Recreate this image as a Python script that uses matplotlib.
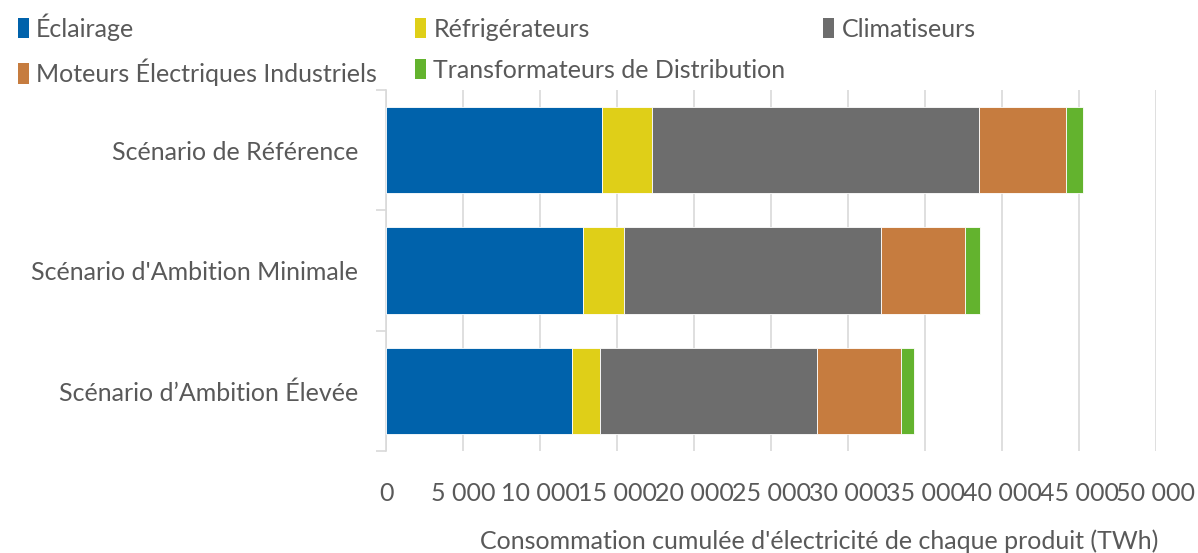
import numpy as np
import matplotlib
matplotlib.use('Agg')
import matplotlib.pyplot as plt
from matplotlib.ticker import FuncFormatter, FixedLocator
from matplotlib.patches import Patch

# Data (TWh)
scenarios = ["Scénario de Référence", "Scénario d'Ambition Minimale", "Scénario d’Ambition Élevée"]
eclairage = [14030, 12790, 12060]
refrigerateurs = [3260, 2660, 1840]
climatiseurs = [21240, 16710, 14110]
moteurs = [5650, 5460, 5450]
transformateurs = [1100, 950, 850]

series = ["Éclairage", "Réfrigérateurs", "Climatiseurs",
          "Moteurs Électriques Industriels", "Transformateurs de Distribution"]
values = [eclairage, refrigerateurs, climatiseurs, moteurs, transformateurs]
colors = ["#0062AB", "#DFCF18", "#6D6D6D", "#C67C3F", "#63B32E"]

txt = "#595959"
fs = 18
plt.rcParams['font.family'] = ['Lato', 'DejaVu Sans']

fig = plt.figure(figsize=(11.98, 5.53), dpi=100, facecolor='white')
ax = fig.add_axes([386/1198, 1-451/553, 770/1198, 361/553])

y = np.arange(len(scenarios))
left = np.zeros(len(scenarios))
for name, vals, c in zip(series, values, colors):
    ax.barh(y, vals, left=left, height=0.72, color=c, edgecolor='white',
            linewidth=0.6, zorder=3, label=name)
    left += np.array(vals)

ax.set_ylim(2.5, -0.5)
ax.set_xlim(0, 50000)
ax.set_xticks(np.arange(0, 50001, 5000))
ax.xaxis.set_major_formatter(FuncFormatter(lambda v, p: f"{int(v):,}".replace(",", " ")))
ax.grid(axis='x', color='#D9D9D9', linewidth=1.2, zorder=0)
ax.tick_params(axis='x', length=0, pad=22, labelsize=fs, labelcolor=txt)

ax.set_yticks(y)
ax.set_yticklabels(scenarios)
ax.tick_params(axis='y', which='major', length=0, pad=20, labelsize=fs, labelcolor=txt)
ax.yaxis.set_minor_locator(FixedLocator([-0.5, 0.5, 1.5, 2.5]))
ax.tick_params(axis='y', which='minor', length=7, width=1.2, color='#D9D9D9', direction='out')

for s in ['top', 'right', 'bottom']:
    ax.spines[s].set_visible(False)
ax.spines['left'].set_color('#D9D9D9')
ax.spines['left'].set_linewidth(1.2)

ax.set_xlabel("Consommation cumulée d'électricité de chaque produit (TWh)",
              fontsize=fs, color=txt)
ax.xaxis.set_label_coords(0.563, -0.217)

# legend, filled column by column
order = [0, 3, 1, 4, 2]
handles = [Patch(facecolor=colors[i], edgecolor='none') for i in order]
labels = [series[i] for i in order]
fig.legend(handles, labels, ncol=3, loc='upper left', bbox_to_anchor=(0.0, 1.008),
           frameon=False, fontsize=fs, labelcolor=txt, handlelength=0.45,
           handleheight=0.9, handletextpad=0.3, columnspacing=1.5,
           labelspacing=0.72, borderaxespad=0.3)

fig.savefig("out.png", dpi=100, facecolor='white')
